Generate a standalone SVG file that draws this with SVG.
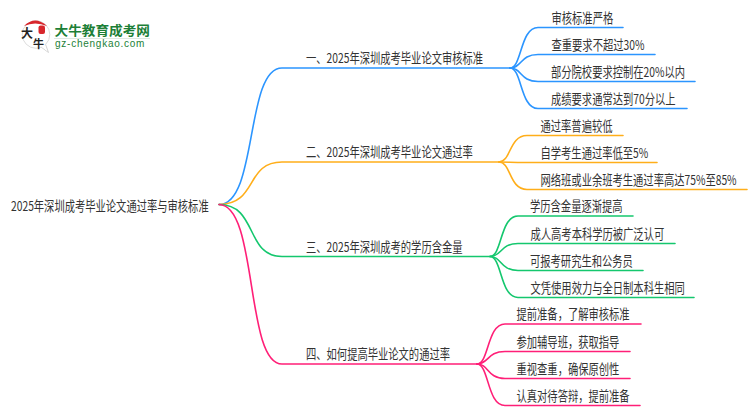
<svg xmlns="http://www.w3.org/2000/svg" width="750" height="410" viewBox="0 0 750 410">
<style>
text{font-family:"Noto Sans CJK SC","Liberation Sans",sans-serif;font-size:13.5px;fill:#333}
#connectors path{fill:none;stroke-width:1.6;stroke-linecap:round}
.a{stroke:#2b95ff}.b{stroke:#ffae1a}.c{stroke:#14c76e}.d{stroke:#ff1f77}
#logo .k{fill:#222;font-weight:700}
#logo .g{fill:#1d7f37}
</style>
<rect width="750" height="410" fill="#fff"/>
<g id="logo">
<path d="M41 47L48.500 52.500L45 43Z" fill="#fff" stroke="#d5d5d5"/>
<circle cx="36" cy="34.500" r="13.800" fill="#fff" stroke="#ddd"/>
<path d="M41 46L47 51L44 43Z" fill="#fff"/>
<path d="M24 26Q35 15 47 26Q35 21 24 26Z" fill="#d8262c"/>
<rect x="38.500" y="25.500" width="6.500" height="8.500" rx="2" fill="#d8262c"/>
<text class="k" x="21" y="38" style="font-size:12px">大</text>
<text class="k" x="33" y="48" style="font-size:11px">牛</text>
<text class="g" transform="translate(54.500 34.500) scale(1.05 1)" style="font-size:13px;font-weight:700">大牛教育成考网</text>
<rect x="54" y="38" width="96" height="1" fill="#dfe9e2"/>
<text class="g" x="55" y="47" style="font-size:10px;font-family:'Liberation Sans',sans-serif;letter-spacing:.75px">gz-chengkao.com</text>
</g>
<g id="connectors">
<path class="a" d="M219 204.500C258 204.500 245 68 282 68H510"/>
<path class="b" d="M219 204.500C258 204.500 245 162 282 162H499"/>
<path class="c" d="M219 204.500C258 204.500 245 256.500 282 256.500H490"/>
<path class="d" d="M219 204.500C258 204.500 245 364 282 364H477"/>
<path class="a" d="M510 68C522 68 520 27.500 538 27.500H623"/>
<path class="a" d="M510 68C522 68 520 54.500 538 54.500H655"/>
<path class="a" d="M510 68C522 68 520 81.500 538 81.500H695"/>
<path class="a" d="M510 68C522 68 520 108.500 538 108.500H687"/>
<path class="b" d="M499 162C511 162 509 135.500 527 135.500H623"/>
<path class="b" d="M499 162C511 162 509 162.500 527 162.500H657"/>
<path class="b" d="M499 162C511 162 509 189.500 527 189.500H747"/>
<path class="c" d="M490 256.500C502 256.500 500 216 518 216H633"/>
<path class="c" d="M490 256.500C502 256.500 500 243.500 518 243.500H675"/>
<path class="c" d="M490 256.500C502 256.500 500 270.500 518 270.500H643"/>
<path class="c" d="M490 256.500C502 256.500 500 297.500 518 297.500H694"/>
<path class="d" d="M477 364C489 364 487 324 505 324H641"/>
<path class="d" d="M477 364C489 364 487 351.500 505 351.500H630"/>
<path class="d" d="M477 364C489 364 487 378.500 505 378.500H630"/>
<path class="d" d="M477 364C489 364 487 405.500 505 405.500H640"/>
</g>
<g id="root"><text transform="translate(11 210.500) scale(.762 1)">2025年深圳成考毕业论文通过率与审核标准</text></g>
<g id="n1"><text transform="translate(306 63) scale(.762 1)">一、2025年深圳成考毕业论文审核标准</text></g>
<g id="n2"><text transform="translate(306 157) scale(.762 1)">二、2025年深圳成考毕业论文通过率</text></g>
<g id="n3"><text transform="translate(306 251.500) scale(.762 1)">三、2025年深圳成考的学历含金量</text></g>
<g id="n4"><text transform="translate(306 359) scale(.762 1)">四、如何提高毕业论文的通过率</text></g>
<g id="n1a"><text transform="translate(551.500 22.500) scale(.762 1)">审核标准严格</text></g>
<g id="n1b"><text transform="translate(551.500 49.500) scale(.762 1)">查重要求不超过30%</text></g>
<g id="n1c"><text transform="translate(551 76.500) scale(.762 1)">部分院校要求控制在20%以内</text></g>
<g id="n1d"><text transform="translate(551 103.500) scale(.762 1)">成绩要求通常达到70分以上</text></g>
<g id="n2a"><text transform="translate(540.500 130.500) scale(.762 1)">通过率普遍较低</text></g>
<g id="n2b"><text transform="translate(540.500 157.500) scale(.762 1)">自学考生通过率低至5%</text></g>
<g id="n2c"><text transform="translate(540.500 184.500) scale(.762 1)">网络班或业余班考生通过率高达75%至85%</text></g>
<g id="n3a"><text transform="translate(530 211) scale(.762 1)">学历含金量逐渐提高</text></g>
<g id="n3b"><text transform="translate(530.500 238.500) scale(.762 1)">成人高考本科学历被广泛认可</text></g>
<g id="n3c"><text transform="translate(530 265.500) scale(.762 1)">可报考研究生和公务员</text></g>
<g id="n3d"><text transform="translate(530.500 292.500) scale(.762 1)">文凭使用效力与全日制本科生相同</text></g>
<g id="n4a"><text transform="translate(516.500 319) scale(.762 1)">提前准备，了解审核标准</text></g>
<g id="n4b"><text transform="translate(516.500 346.500) scale(.762 1)">参加辅导班，获取指导</text></g>
<g id="n4c"><text transform="translate(516.500 373.500) scale(.762 1)">重视查重，确保原创性</text></g>
<g id="n4d"><text transform="translate(516.500 400.500) scale(.762 1)">认真对待答辩，提前准备</text></g>
</svg>
